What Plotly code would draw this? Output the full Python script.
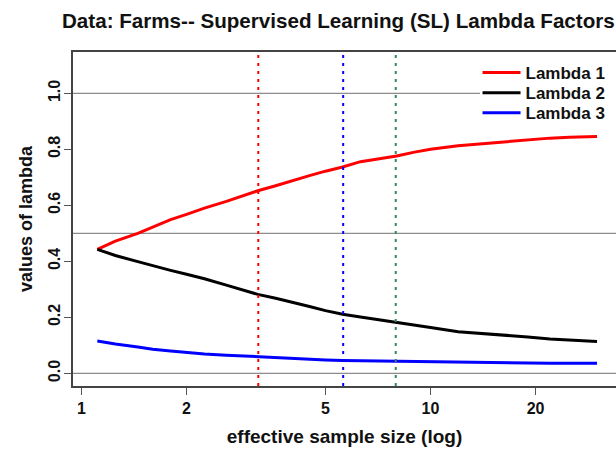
import plotly.graph_objects as go

# ---- data ----
sample_size = [1.11, 1.25, 1.45, 1.6, 1.8, 2.0, 2.25, 2.6, 3.0, 3.2, 3.6, 4.0, 4.5, 5.0, 5.6,
               6.3, 7.0, 8.0, 9.0, 10, 12, 14, 16.5, 19, 22, 25, 30]
lambda1 = [0.443, 0.472, 0.500, 0.522, 0.549, 0.568, 0.590, 0.614, 0.640, 0.652, 0.670, 0.688,
           0.706, 0.722, 0.737, 0.756, 0.765, 0.776, 0.790, 0.800, 0.813, 0.820, 0.827, 0.835,
           0.840, 0.843, 0.846]
lambda2 = [0.443, 0.421, 0.399, 0.384, 0.368, 0.354, 0.338, 0.315, 0.293, 0.282, 0.268, 0.255,
           0.239, 0.224, 0.211, 0.201, 0.192, 0.181, 0.172, 0.164, 0.149, 0.143, 0.137, 0.130,
           0.123, 0.120, 0.114]
lambda3 = [0.116, 0.105, 0.094, 0.086, 0.080, 0.075, 0.069, 0.065, 0.061, 0.059, 0.056, 0.053,
           0.049, 0.048, 0.046, 0.045, 0.045, 0.044, 0.042, 0.041, 0.039, 0.038, 0.036, 0.036,
           0.036, 0.036, 0.036]
series_names = ["Lambda 1", "Lambda 2", "Lambda 3"]
series_colors = ["#FF0000", "#000000", "#0000FF"]

ref_h_lines = [0.0, 0.5, 1.0]
ref_h_extent = [1.0, 1.0, 0.7495]   # the 1.0 line is hidden behind the legend box
ref_v_lines = [3.21, 5.62, 7.95]
ref_v_colors = ["#FF0000", "#0000FF", "#2E8B57"]

x_ticks = [1, 2, 5, 10, 20]
y_ticks = [0.0, 0.2, 0.4, 0.6, 0.8, 1.0]
y_tick_labels = ["0.0", "0.2", "0.4", "0.6", "0.8", "1.0"]

FONT = "Liberation Sans, Arial, Helvetica, sans-serif"
legend_ids = ["legend", "legend2", "legend3"]
legend_y = [0.937, 0.877, 0.817]

fig = go.Figure()
for name, ys, col, lid in zip(series_names, [lambda1, lambda2, lambda3], series_colors, legend_ids):
    fig.add_trace(go.Scatter(x=sample_size, y=ys, mode="lines", name=name, legend=lid,
                             line=dict(color=col, width=3)))

for h, ext in zip(ref_h_lines, ref_h_extent):
    fig.add_shape(type="line", xref="paper", x0=0, x1=ext, yref="y", y0=h, y1=h,
                  line=dict(color="#8c8c8c", width=1.2), layer="below")
for v, c in zip(ref_v_lines, ref_v_colors):
    fig.add_shape(type="line", xref="x", x0=v, x1=v, yref="paper", y0=0, y1=1,
                  line=dict(color=c, width=2, dash="3px,5px"), layer="above")

leg_common = dict(x=0.745, xanchor="left", yanchor="middle",
                  bgcolor="rgba(0,0,0,0)", borderwidth=0, itemwidth=38,
                  font=dict(family=FONT, size=17, color="#111111", weight="bold"))

fig.update_layout(
    width=616, height=453,
    margin=dict(l=73, r=0, t=52, b=67),
    paper_bgcolor="white", plot_bgcolor="white",
    font=dict(family=FONT, color="#111111", weight="bold"),
    title=dict(text="Data: Farms-- Supervised Learning (SL) Lambda Factors",
               xref="container", x=62 / 616, xanchor="left",
               yref="container", y=1 - 21 / 453, yanchor="middle",
               font=dict(family=FONT, size=20.6, color="#111111", weight="bold")),
    showlegend=True,
    legend=dict(y=legend_y[0], **leg_common),
    legend2=dict(y=legend_y[1], **leg_common),
    legend3=dict(y=legend_y[2], **leg_common),
)

fig.update_xaxes(type="log", range=[-0.0244, 1.5315],
                 tickvals=x_ticks, ticktext=[str(t) for t in x_ticks],
                 ticks="outside", ticklen=7, tickwidth=1.2, tickcolor="#555",
                 showgrid=False, zeroline=False,
                 showline=True, linecolor="#444", linewidth=1.5, mirror=True,
                 tickfont=dict(family=FONT, size=16, color="#111111", weight="bold"),
                 title=dict(text="effective sample size (log)", standoff=14,
                            font=dict(family=FONT, size=19, color="#111111", weight="bold")))
fig.update_yaxes(range=[-0.045, 1.1475],
                 tickvals=y_ticks, ticktext=y_tick_labels, tickangle=-90,
                 ticklabelstandoff=-2,
                 ticks="outside", ticklen=7, tickwidth=1.2, tickcolor="#555",
                 showgrid=False, zeroline=False,
                 showline=True, linecolor="#444", linewidth=1.5, mirror=False,
                 tickfont=dict(family=FONT, size=16, color="#111111", weight="bold"),
                 title=dict(text="values of lambda", standoff=9,
                            font=dict(family=FONT, size=18, color="#111111", weight="bold")))

fig.write_html("out.html")
